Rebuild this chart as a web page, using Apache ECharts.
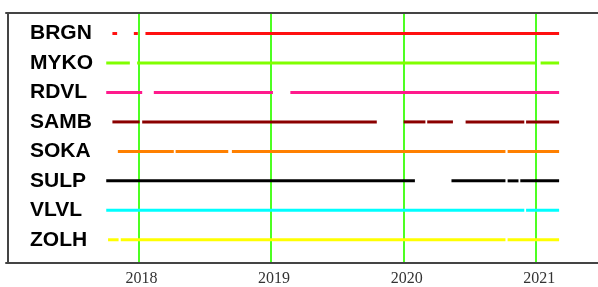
<!DOCTYPE html>
<html>
<head>
<meta charset="utf-8">
<script src="https://cdn.jsdelivr.net/npm/echarts@6/dist/echarts.min.js"></script>
<style>
  html, body { margin: 0; padding: 0; background: #fff; }
  #chart { width: 598px; height: 287px; }
</style>
</head>
<body>
<div id="chart"></div>
<script>
// stations, top to bottom
const stations = ['BRGN', 'MYKO', 'RDVL', 'SAMB', 'SOKA', 'SULP', 'VLVL', 'ZOLH']

// data availability periods per station [from, to]
const brgn = [['2017-10-21', '2017-11-03'], ['2017-12-19', '2017-12-30'], ['2018-01-20', '2021-03-05']]
const myko = [['2017-10-04', '2017-12-08'], ['2017-12-28', '2020-12-29'], ['2021-01-13', '2021-03-05']]
const rdvl = [['2017-10-04', '2018-01-11'], ['2018-02-12', '2019-01-06'], ['2019-02-23', '2021-03-05']]
const samb = [['2017-10-21', '2018-01-04'], ['2018-01-11', '2019-10-19'], ['2020-01-01', '2020-03-01'],
  ['2020-03-06', '2020-05-16'], ['2020-06-20', '2020-11-29'], ['2020-12-04', '2021-03-05']]
const soka = [['2017-11-05', '2018-04-08'], ['2018-04-13', '2018-09-05'], ['2018-09-15', '2020-10-08'], ['2020-10-14', '2021-03-05']]
const sulp = [['2017-10-04', '2020-02-01'], ['2020-05-12', '2020-10-08'], ['2020-10-14', '2020-11-13'], ['2020-11-18', '2021-03-05']]
const vlvl = [['2017-10-04', '2020-11-29'], ['2020-12-04', '2021-03-05']]
const zolh = [['2017-10-09', '2017-11-07'], ['2017-11-13', '2020-10-08'], ['2020-10-14', '2021-03-05']]

const periods = [brgn, myko, rdvl, samb, soka, sulp, vlvl, zolh]
const colors = ['#ff1010', '#80ff00', '#ff1a8c', '#8b0000', '#ff8000', '#000000', '#00ffff', '#ffff00']

const xMin = 2017
const xMax = 2021.466

// date string -> fractional year
function toYear(s) {
  const d = new Date(s + 'T00:00:00Z')
  const y = d.getUTCFullYear()
  const start = Date.UTC(y, 0, 1)
  const end = Date.UTC(y + 1, 0, 1)
  return y + (d.getTime() - start) / (end - start)
}

const segData = []
periods.forEach((list, i) => {
  list.forEach(p => {
    segData.push([toYear(p[0]), toYear(p[1]), i])
  })
})

const chart = echarts.init(document.getElementById('chart'))
const frameColor = '#444'

const opt = {
  animation: false,
  grid: [
    { left: 6, top: 13, right: 0, bottom: 24 },
    { left: 6, top: 18.8, right: 0, bottom: 32.5 }
  ],
  xAxis: [
    {
      gridIndex: 0,
      type: 'value',
      min: xMin,
      max: xMax,
      interval: 1,
      axisLine: { show: true, lineStyle: { color: frameColor, width: 2 } },
      axisTick: { show: false },
      axisLabel: {
        showMinLabel: false,
        showMaxLabel: false,
        formatter: v => String(v),
        color: '#333',
        fontFamily: 'Liberation Serif',
        fontSize: 16,
        margin: 8,
        padding: [0, 0, 0, 6]
      },
      splitLine: {
        show: true,
        showMinLine: false,
        showMaxLine: false,
        lineStyle: { color: '#4dff22', width: 2 }
      }
    },
    {
      gridIndex: 1,
      type: 'value',
      min: xMin,
      max: xMax,
      show: false
    },
    {
      gridIndex: 0,
      type: 'value',
      position: 'top',
      min: xMin,
      max: xMax,
      axisLine: { show: true, lineStyle: { color: frameColor, width: 2 } },
      axisTick: { show: false },
      axisLabel: { show: false },
      splitLine: { show: false }
    }
  ],
  yAxis: [
    {
      gridIndex: 0,
      type: 'value',
      offset: -2,
      axisLine: { show: true, lineStyle: { color: frameColor, width: 2 } },
      axisTick: { show: false },
      axisLabel: { show: false },
      splitLine: { show: false }
    },
    {
      gridIndex: 1,
      type: 'category',
      inverse: true,
      data: stations,
      axisLine: { show: false },
      axisTick: { show: false },
      splitLine: { show: false },
      axisLabel: {
        inside: true,
        margin: 24,
        padding: [5, 0, 0, 0],
        color: '#000',
        fontFamily: 'Liberation Sans',
        fontWeight: 'bold',
        fontSize: 21
      }
    }
  ],
  series: [
    {
      type: 'custom',
      xAxisIndex: 1,
      yAxisIndex: 1,
      data: segData,
      encode: { x: [0, 1], y: 2 },
      renderItem: (params, api) => {
        const row = api.value(2)
        const a = api.coord([api.value(0), row])
        const b = api.coord([api.value(1), row])
        return {
          type: 'line',
          shape: { x1: a[0], y1: a[1], x2: b[0], y2: b[1] },
          style: { stroke: colors[row], lineWidth: 3, lineCap: 'butt' }
        }
      }
    }
  ]
}

chart.setOption(opt)
</script>
</body>
</html>
